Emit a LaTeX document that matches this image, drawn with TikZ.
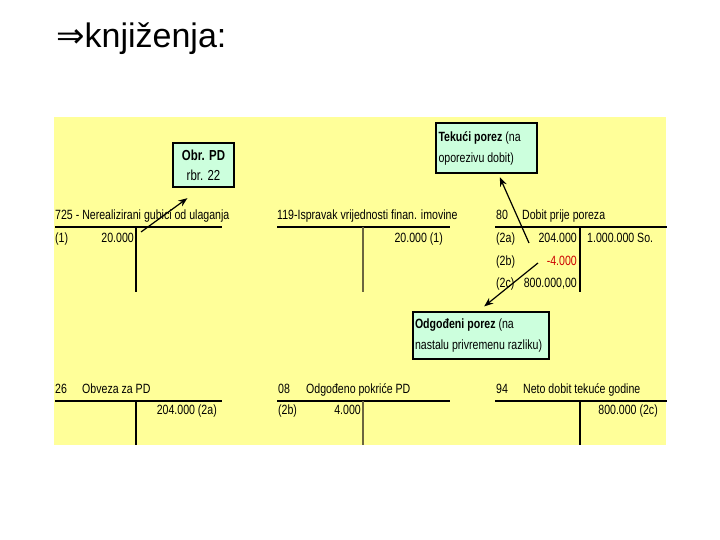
\documentclass[tikz,border=0pt]{standalone}
\usepackage{fontspec}
\setmainfont{Liberation Sans}
\newfontfamily\kontofont{Liberation Sans}[FakeStretch=0.79]
\newfontfamily\simbolfont{DejaVu Sans}
\usetikzlibrary{calc}
\usetikzlibrary{positioning}
\usetikzlibrary{arrows.meta}
\definecolor{pozadina}{HTML}{FFFF99}
\definecolor{okvir}{HTML}{CCFFDD}
\definecolor{crvena}{HTML}{CC0000}
\definecolor{maslina}{HTML}{6B6640}
\tikzstyle{konto} = [inner sep=0pt, anchor=base west,
font=\kontofont\fontsize{13.4}{15}\selectfont]
\tikzstyle{iznos} = [konto, anchor=base east]
\tikzstyle{crta} = [line width=1.8pt]
\tikzstyle{stupac} = [line width=1.4pt]
\tikzstyle{biljeska} = [draw=black, line width=1.2pt, fill=okvir,
inner ysep=2pt, % box sizes as in the slide
font=\kontofont\fontsize{13.4}{21}\selectfont]
\tikzstyle{pointer} = [line width=1.2pt, -{Stealth[length=9pt,width=7pt]}]

\begin{document}
\begin{tikzpicture}[x=1pt, y=-1pt]
    \useasboundingbox (0,0) rectangle (720,540);
    \fill[pozadina] (54,117) rectangle (666,445);
    \node[anchor=base west, inner sep=0pt, font=\fontsize{34}{40}\selectfont] (naslov) at (56,48) {{\simbolfont\fontsize{34}{38}\selectfont ⇒}knjiženja:};

    % notes
    \node[biljeska, minimum width=61pt, minimum height=44pt, align=flush center, inner xsep=0pt,
      font=\kontofont\fontsize{14.5}{20}\selectfont] (obrpd) at (203.5,165) {\textbf{Obr. PD}\\rbr. 22};
    \node[biljeska, text width=96pt, minimum height=50pt, align=flush left, inner xsep=2.5pt] (tekuci) at (486.5,148) {\textbf{Tekući porez} (na\\oporezivu dobit)};
    \node[biljeska, text width=132pt, minimum height=47pt, align=flush left, inner xsep=2pt] (odgodeni) at (481,335.5) {\textbf{Odgođeni porez} (na\\nastalu privremenu razliku)};

    % upper accounts
    \node[konto] (k725) at (55,220) {725 - Nerealizirani gubici od ulaganja};
    \draw[crta] (55,227) -- (222,227);
    \draw[stupac] (136,227) -- (136,292);
    \node[konto] (k725a) at (55,243) {(1)};
    \node[iznos] (k725b) at (134,243) {20.000};

    \node[konto] (k119) at (277,220) {119-Ispravak vrijednosti finan. imovine};
    \draw[crta] (277,227) -- (450,227);
    \draw[stupac, maslina] (363,227) -- (363,292);
    \node[iznos] (k119a) at (443,243) {20.000 (1)};

    \node[konto] (k80) at (496,220) {80};
    \node[konto] (k80naziv) at (522,220) {Dobit prije poreza};
    \draw[crta] (495,227) -- (667,227);
    \draw[stupac] (580,227) -- (580,292);
    \node[konto] (r2a) at (496,243) {(2a)};
    \node[iznos] (k80a) at (577,243) {204.000};
    \node[konto] (k80so) at (587,243) {1.000.000 So.};
    \node[konto] (r2b) at (496,265) {(2b)};
    \node[iznos, text=crvena] (k80b) at (577,265) {-4.000};
    \node[konto] (r2c) at (496,287) {(2c)};
    \node[iznos] (k80c) at (577,287) {800.000,00};

    % lower accounts
    \node[konto] (k26) at (55,393) {26};
    \node[konto] (k26naziv) at (82,393) {Obveza za PD};
    \draw[crta] (55,401) -- (222,401);
    \draw[stupac] (136,401) -- (136,445);
    \node[iznos] (k26a) at (217,414) {204.000 (2a)};

    \node[konto] (k08) at (278,393) {08};
    \node[konto] (k08naziv) at (306,393) {Odgođeno pokriće PD};
    \draw[crta] (277,401) -- (450,401);
    \draw[stupac, maslina] (363,401) -- (363,445);
    \node[konto] (k08a) at (278,414) {(2b)};
    \node[iznos] (k08b) at (361,414) {4.000};

    \node[konto] (k94) at (496,393) {94};
    \node[konto] (k94naziv) at (523,393) {Neto dobit tekuće godine};
    \draw[crta] (495,401) -- (667,401);
    \draw[stupac] (580,401) -- (580,445);
    \node[iznos] (k94a) at (658,414) {800.000 (2c)};

    % arrows
    \coordinate (od1) at (141,232);
    \coordinate (od2a) at (529,243);
    \coordinate (od2b) at (538,263);
    \draw[pointer, shorten >=18pt] (od1) -- ([xshift=-1.6pt]obrpd.south);
    \draw[pointer, shorten >=4pt] (od2a) -- ([xshift=11.7pt]tekuci.south);
    \draw[pointer, shorten >=8pt] (od2b) -- ([xshift=-3pt]odgodeni.north);
\end{tikzpicture}
\end{document}
